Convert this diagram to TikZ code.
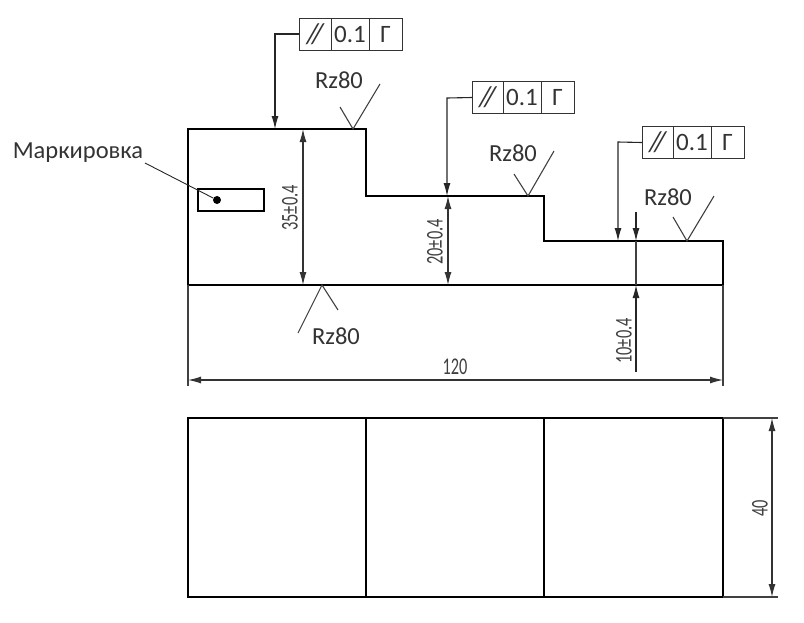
\documentclass[tikz,border=0pt]{standalone}
\usepackage{fontspec}
\setmainfont{Carlito}
\newfontfamily\dimfont[FakeStretch=0.68]{Carlito}
\usetikzlibrary{positioning,arrows.meta}

\tikzset{
  partline/.style = {line width=2.1pt, black, line join=miter},
  thinline/.style = {line width=1.1pt, black!75},
  dimline/.style = {line width=1.1pt, black!80, {Latex[length=13pt,width=7pt]}-{Latex[length=13pt,width=7pt]}},
  leaderline/.style = {line width=1.1pt, black!85, -{Latex[length=13pt,width=7pt]}},
  cellbox/.style = {draw=black!80, line width=1pt, minimum height=32pt, inner sep=0pt, outer sep=0pt, text=black!80, font=\fontsize{25}{25}\selectfont},
  labeltext/.style = {text=black!80, inner sep=0pt, font=\fontsize{24.5}{24.5}\selectfont},
  dimtext/.style = {text=black!75, inner sep=0pt, rotate=90, font=\dimfont\fontsize{24}{24}\selectfont}
}

\begin{document}
\begin{tikzpicture}[x=1pt, y=-1pt]
\useasboundingbox (0,0) rectangle (804,622);

% front view
\draw [partline] (188,129) -- (366,129) -- (366,196) -- (544,196) -- (544,241) -- (723,241) -- (723,285) -- (188,285) -- cycle;
\draw [partline] (198,189) rectangle (264,211);
\node [circle, fill=black, inner sep=0pt, minimum size=8pt] (dotmark) at (217,200) {};

% top view
\draw [partline] (188,418) rectangle (723,597);
\draw [partline, line width=1.6pt] (366,418) -- (366,597);
\draw [partline, line width=1.6pt] (544,418) -- (544,597);

% marking
\node [labeltext] (marktext) at (78,153) {Маркировка};
\coordinate (markfree) at (145,163);
\draw [line width=0.9pt, black!85] (markfree) -- (dotmark);

% extension lines
\draw [thinline] (188,285) -- (188,386);
\draw [thinline] (723,285) -- (723,386);
\draw [thinline] (723,418) -- (778,418);
\draw [thinline] (723,597) -- (778,597);

% dimensions
\coordinate (dimAtop) at (303,129);
\coordinate (dimAbot) at (303,285);
\draw [dimline] (dimAtop) -- (dimAbot);
\node [dimtext] (dimAtext) at (290,208) {35±0.4};

\coordinate (dimBtop) at (448,196);
\coordinate (dimBbot) at (448,285);
\draw [dimline] (dimBtop) -- (dimBbot);
\node [dimtext] (dimBtext) at (435,242) {20±0.4};

\coordinate (dimCfree) at (636,212);
\coordinate (dimCtop) at (636,241);
\coordinate (dimCbot) at (636,285);
\coordinate (dimCend) at (636,372);
\draw [leaderline] (dimCfree) -- (dimCtop);
\draw [thinline] (dimCtop) -- (dimCbot);
\draw [leaderline] (dimCend) -- (dimCbot);
\node [dimtext] (dimCtext) at (624,341) {10±0.4};

\coordinate (dimDleft) at (188,380);
\coordinate (dimDright) at (723,380);
\draw [dimline] (dimDleft) -- (dimDright);
\node [dimtext, rotate=-90] (dimDtext) at (455,367) {120};

\coordinate (dimEtop) at (772,418);
\coordinate (dimEbot) at (772,597);
\draw [dimline] (dimEtop) -- (dimEbot);
\node [dimtext] (dimEtext) at (760,508) {40};

% roughness marks
\draw [thinline] (340,107) -- (353,129) -- (380,84);
\node [labeltext] (rzA) at (339,80) {Rz80};
\draw [thinline] (514,174) -- (528,196) -- (554,151);
\node [labeltext] (rzB) at (513,153) {Rz80};
\draw [thinline] (673,217) -- (687,241) -- (714,196);
\node [labeltext] (rzC) at (668,197) {Rz80};
\draw [thinline] (338,310) -- (322,285) -- (298,333);
\node [labeltext] (rzD) at (336,336) {Rz80};

% tolerance frames
\node [cellbox, minimum width=32pt] (symA) at (315,34) {\fontsize{29}{29}\selectfont\itshape /\kern-6pt/};
\node [cellbox, minimum width=38pt, right=0pt of symA] (valA) {0.1};
\node [cellbox, minimum width=33pt, right=0pt of valA] (baseA) {Г};
\coordinate (bendA) at (275,34);
\coordinate (endA) at (275,129);
\draw [leaderline] (symA.west) -- (bendA) -- (endA);

\node [cellbox, minimum width=31pt] (symB) at (487.5,97.5) {\fontsize{29}{29}\selectfont\itshape /\kern-6pt/};
\node [cellbox, minimum width=38pt, right=0pt of symB] (valB) {0.1};
\node [cellbox, minimum width=33pt, right=0pt of valB] (baseB) {Г};
\coordinate (bendB) at (447,98);
\coordinate (endB) at (447,196);
\draw [leaderline] (symB.west) -- (bendB) -- (endB);

\node [cellbox, minimum width=31pt] (symC) at (657.5,142.5) {\fontsize{29}{29}\selectfont\itshape /\kern-6pt/};
\node [cellbox, minimum width=38pt, right=0pt of symC] (valC) {0.1};
\node [cellbox, minimum width=33pt, right=0pt of valC] (baseC) {Г};
\coordinate (bendC) at (618,142);
\coordinate (endC) at (618,241);
\draw [leaderline] (symC.west) -- (bendC) -- (endC);

\end{tikzpicture}
\end{document}
